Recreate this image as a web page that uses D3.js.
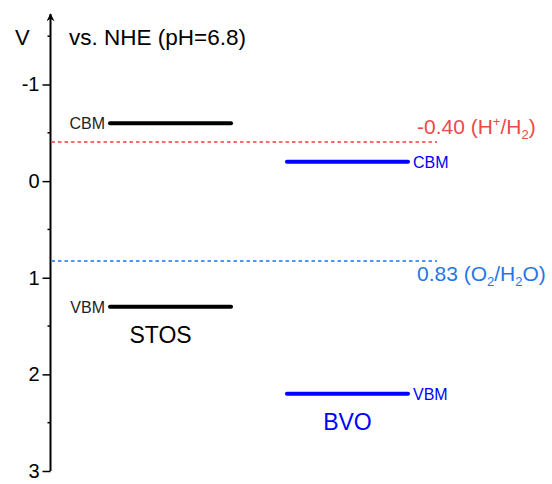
<!DOCTYPE html>
<html>
<head>
<meta charset="utf-8">
<script src="https://cdn.jsdelivr.net/npm/d3@7"></script>
<style>
  body { margin: 0; background: #fff; }
  svg text { font-family: "Liberation Sans", Arial, sans-serif; }
</style>
</head>
<body>
<div id="chart"></div>
<script>
// band edges (V vs. NHE)
var materials = ["STOS", "BVO"];
var cbm = [-0.60, -0.20];
var vbm = [1.30, 2.20];
var materialColors = ["#000000", "#0000ff"];

// redox potentials
var redoxValues = [-0.40, 0.83];
var redoxColors = ["#f0474b", "#1f78e6"];
var redoxLineColors = ["#ff3b3b", "#1473ff"];

var majorTicks = [-1, 0, 1, 2, 3];
var minorTicks = [-1.5, -0.5, 0.5, 1.5, 2.5];

var width = 552, height = 484;

var svg = d3.select("#chart").append("svg")
    .attr("width", width)
    .attr("height", height);

// y scale: more negative potential at the top
var y = d3.scaleLinear()
    .domain([-1, 3])
    .range([84.5, 471]);

// x positions for each material slot
var x = d3.scaleBand()
    .domain(materials)
    .range([110, 408])
    .paddingInner(0.316);

var axisX = 50.5;

// axis line with arrow
svg.append("defs").append("marker")
    .attr("id", "arrow")
    .attr("viewBox", "0 0 10 10")
    .attr("refX", 5).attr("refY", 1)
    .attr("markerWidth", 8).attr("markerHeight", 10)
    .attr("markerUnits", "userSpaceOnUse")
    .attr("orient", "0")
    .append("path")
    .attr("d", "M0,10 L5,0 L10,10 L5,7 Z")
    .attr("fill", "#000");

svg.append("line")
    .attr("x1", axisX).attr("x2", axisX)
    .attr("y1", y(3)).attr("y2", 14)
    .attr("stroke", "#000").attr("stroke-width", 2)
    .attr("marker-end", "url(#arrow)");

var yAxis = d3.axisLeft(y)
    .tickValues(majorTicks)
    .tickSize(8)
    .tickPadding(3)
    .tickFormat(d3.format("d"));

var gAxis = svg.append("g")
    .attr("transform", "translate(" + axisX + ",0)")
    .call(yAxis);
gAxis.select(".domain").remove();
gAxis.selectAll(".tick line").attr("stroke-width", 1.5);
gAxis.selectAll(".tick text")
    .style("font-size", "20px")
    .attr("fill", "#000")
    .text(function(d) { return d < 0 ? "-" + Math.abs(d) : d; });

svg.selectAll(".minor")
    .data(minorTicks)
    .enter().append("line")
    .attr("class", "minor")
    .attr("x1", axisX - 3).attr("x2", axisX)
    .attr("y1", function(d) { return y(d); })
    .attr("y2", function(d) { return y(d); })
    .attr("stroke", "#000").attr("stroke-width", 1.5);

// axis titles
svg.append("text")
    .attr("x", 15).attr("y", 45)
    .style("font-size", "22px")
    .text("V");
svg.append("text")
    .attr("x", 69).attr("y", 45)
    .style("font-size", "22.5px")
    .text("vs. NHE (pH=6.8)");

// redox dashed lines
var redoxEnd = 437;
svg.selectAll(".redox")
    .data(redoxValues)
    .enter().append("line")
    .attr("class", "redox")
    .attr("x1", axisX + 1).attr("x2", redoxEnd)
    .attr("y1", function(d) { return Math.round(y(d)); })
    .attr("y2", function(d) { return Math.round(y(d)); })
    .attr("stroke", function(d, i) { return redoxLineColors[i]; })
    .attr("stroke-width", 1.5)
    .attr("stroke-dasharray", "3.5,3");

// redox labels
var h = svg.append("text")
    .attr("x", 417).attr("y", y(redoxValues[0]) - 8)
    .attr("fill", redoxColors[0])
    .style("font-size", "21px");
h.append("tspan").text("-0.40 (H");
h.append("tspan").attr("dy", -8).style("font-size", "13px").text("+");
h.append("tspan").attr("dy", 8).text("/H");
h.append("tspan").attr("dy", 5).style("font-size", "13px").text("2");
h.append("tspan").attr("dy", -5).text(")");

var o = svg.append("text")
    .attr("x", 417).attr("y", y(redoxValues[1]) + 20)
    .attr("fill", redoxColors[1])
    .style("font-size", "21px");
o.append("tspan").text("0.83 (O");
o.append("tspan").attr("dy", 5).style("font-size", "13px").text("2");
o.append("tspan").attr("dy", -5).text("/H");
o.append("tspan").attr("dy", 5).style("font-size", "13px").text("2");
o.append("tspan").attr("dy", -5).text("O)");

// band edges
materials.forEach(function(m, i) {
    var x0 = x(m), x1 = x(m) + x.bandwidth();
    var col = materialColors[i];
    [cbm[i], vbm[i]].forEach(function(v, j) {
        svg.append("line")
            .attr("x1", x0).attr("x2", x1)
            .attr("y1", y(v)).attr("y2", y(v))
            .attr("stroke", col)
            .attr("stroke-width", 4)
            .attr("stroke-linecap", "round");

        var label = j === 0 ? "CBM" : "VBM";
        svg.append("text")
            .attr("x", i === 0 ? x0 - 5 : x1 + 5)
            .attr("y", y(v) + 6)
            .attr("text-anchor", i === 0 ? "end" : "start")
            .attr("fill", i === 0 ? "#222" : col)
            .style("font-size", "16px")
            .text(label);
    });

    // STOS label sits a bit left of its bar centre
    svg.append("text")
        .attr("x", (x0 + x1) / 2 - (i === 0 ? 10 : 0))
        .attr("y", y(vbm[i]) + 36)
        .attr("text-anchor", "middle")
        .attr("fill", col)
        .style("font-size", "23px")
        .text(m);
});
</script>
</body>
</html>
